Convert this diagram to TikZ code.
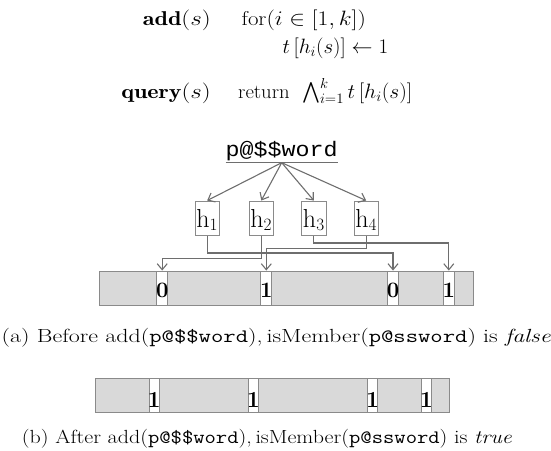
\documentclass[tikz,border=0pt]{standalone}
\usepackage{amsmath}
\usepackage{fontspec}
\usepackage{graphicx}
\newfontfamily\cour{Liberation Mono}
\usetikzlibrary{arrows.meta}
\definecolor{linegray}{HTML}{6E6E6E}
\definecolor{boxgray}{HTML}{8A8A8A}
\definecolor{barfill}{HTML}{D9D9D9}
\newcommand{\mtxt}[2]{\resizebox{#1pt}{\height}{\fontsize{20}{24}\selectfont #2}}
\begin{document}
\begin{tikzpicture}[x=1pt,y=-1pt,
  conn/.style={draw=linegray, line width=1.1pt, -{Straight Barb[length=6pt,width=10pt]}},
  hbox/.style={draw=boxgray, line width=0.9pt, fill=white, inner sep=0pt,
    minimum width=24.3pt, text height=26pt, text depth=8.7pt,
    font=\fontsize{26}{30}\selectfont},
  bar/.style={draw=boxgray, line width=0.9pt, fill=barfill, inner sep=0pt},
  cellA/.style={draw=boxgray, line width=0.9pt, fill=white, inner sep=0pt,
    minimum width=10.8pt, text height=26.3pt, text depth=8.4pt,
    font=\fontsize{22}{26}\selectfont\bfseries},
  cellB/.style={draw=boxgray, line width=0.9pt, fill=white, inner sep=0pt,
    minimum width=10.3pt, text height=29pt, text depth=5.4pt,
    font=\fontsize{23}{27}\selectfont\bfseries},
  txt/.style={inner sep=0pt}
]
\useasboundingbox (0,0) rectangle (551,450);

% pseudo code
\node[txt, anchor=base east] (addn) at (211,25.5) {\mtxt{68}{$\mathbf{add}(s)$}};
\node[txt, anchor=base west] (forn) at (241.5,25.5) {\mtxt{124.3}{for$(i\in[1,k])$}};
\node[txt, anchor=base west] (setn) at (282.5,53) {\mtxt{105.5}{$t\,[h_i(s)]\leftarrow 1$}};
\node[txt, anchor=base east] (qryn) at (211,98) {\mtxt{89.5}{$\mathbf{query}(s)$}};
\node[txt, anchor=base west] (retn) at (238,98) {\mtxt{174}{return\ \ $\bigwedge_{i=1}^{k} t\,[h_i(s)]$}};

% word
\node[txt, anchor=base, text depth=6pt] (w) at (281.7,156.5)
  {\resizebox{112pt}{\height}{\cour\fontsize{21}{24}\selectfont p@\$\$word}};
\draw[draw=linegray, line width=1.1pt] (w.south west) -- (w.south east);

% hash boxes
\node[hbox] (h1) at (207.15,218.35) {$\mathrm{h}_1$};
\node[hbox] (h2) at (261.3,218.35) {$\mathrm{h}_2$};
\node[hbox] (h3) at (313.85,218.35) {$\mathrm{h}_3$};
\node[hbox] (h4) at (366.15,218.35) {$\mathrm{h}_4$};

\foreach \h in {h1,h2,h3,h4} \draw[conn] (w.south) -- (\h.north);

% bar (a)
\node[bar, minimum width=374pt, minimum height=34.7pt] (barA) at (286.3,288.35) {};
\node[cellA] (a1) at (162.2,288.35) {\makebox[0pt]{0}};
\node[cellA] (a2) at (266.3,288.35) {\makebox[0pt]{1}};
\node[cellA] (a3) at (393,288.35) {\makebox[0pt]{0}};
\node[cellA] (a4) at (448.8,288.35) {\makebox[0pt]{1}};

\coordinate (y3) at (0,243);
\coordinate (y4) at (0,248.5);
\coordinate (y1) at (0,253);
\coordinate (y2) at (0,258.5);
\draw[conn] (h1.south) |- (a3.north |- y1) -- (a3.north);
\draw[conn] (h2.south) |- (a1.north |- y2) -- (a1.north);
\draw[conn] (h3.south) |- (a4.north |- y3) -- (a4.north);
\draw[conn] (h4.south) |- (a2.north |- y4) -- (a2.north);

% caption (a)
\node[txt, anchor=base west] (capA) at (1.5,342)
  {\resizebox{549pt}{\height}{\fontsize{19}{22}\selectfont (a) Before add(\texttt{p@\$\$word}),\,isMember(\texttt{p@ssword}) is \textit{false}}};

% bar (b)
\node[bar, minimum width=354pt, minimum height=34.4pt] (barB) at (272,395.5) {};
\node[cellB] (b1) at (154.2,395.5) {\makebox[0pt]{1}};
\node[cellB] (b2) at (253.3,395.5) {\makebox[0pt]{1}};
\node[cellB] (b3) at (372.7,395.5) {\makebox[0pt]{1}};
\node[cellB] (b4) at (426.4,395.5) {\makebox[0pt]{1}};

% caption (b)
\node[txt, anchor=base west] (capB) at (21.7,443)
  {\resizebox{490pt}{\height}{\fontsize{19}{22}\selectfont (b) After add(\texttt{p@\$\$word}),\,isMember(\texttt{p@ssword}) is \textit{true}}};
\end{tikzpicture}
\end{document}
